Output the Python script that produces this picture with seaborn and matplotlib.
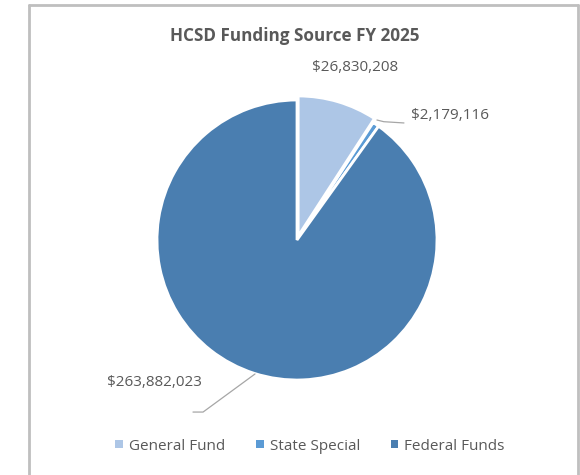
import numpy as np
import matplotlib
matplotlib.use("Agg")
import matplotlib.pyplot as plt
from matplotlib.patches import Patch
from matplotlib.lines import Line2D
import seaborn as sns

categories = ["General Fund", "State Special", "Federal Funds"]
values = [26830208, 2179116, 263882023]
value_labels = ["$26,830,208", "$2,179,116", "$263,882,023"]
colors = ["#adc6e6", "#5b9bd5", "#4a7eb0"]
title = "HCSD Funding Source FY 2025"

sns.set_theme(style="white")
plt.rcParams['font.family'] = ['Open Sans', 'DejaVu Sans']
txt = "#595959"

W, H = 580, 475
fig = plt.figure(figsize=(W / 100, H / 100), dpi=100)
fig.patch.set_facecolor("white")

cx, cy, R = 297, 240, 140
half = 1.4 * R
ax = fig.add_axes([(cx - half) / W, (H - cy - half) / H, 2 * half / W, 2 * half / H])

wedges, _ = ax.pie(values, colors=colors, startangle=90, counterclock=False,
                   explode=[0.03, 0, 0], radius=1.0,
                   wedgeprops=dict(edgecolor="white", linewidth=2))
ax.set_xlim(-1.4, 1.4)
ax.set_ylim(-1.4, 1.4)
ax.set_aspect("equal")
ax.axis("off")
for w in wedges:
    w.set_clip_on(False)

# data labels
fs = 11
ax.text(0.414, 1.229, value_labels[0], ha="center", va="center", fontsize=fs, color=txt)
ax.text(0.814, 0.886, value_labels[1], ha="left", va="center", fontsize=fs, color=txt)
ax.text(-0.679, -1.02, value_labels[2], ha="right", va="center", fontsize=fs, color=txt)

lc = "#a6a6a6"
ax.add_line(Line2D([0.571, 0.62, 0.764], [0.857, 0.845, 0.836], color=lc, lw=0.9, clip_on=False))
ax.add_line(Line2D([-0.30, -0.671, -0.743], [-0.957, -1.229, -1.229], color=lc, lw=0.9, clip_on=False))

fig.text(295 / W, 1 - 36 / H, title, ha="center", va="center", fontsize=12.3,
         fontweight="bold", color=txt)

handles = [Patch(facecolor=c, edgecolor="none") for c in colors]
fig.legend(handles, categories, loc="center", bbox_to_anchor=(310 / W, 1 - 446 / H),
           ncol=3, frameon=False, fontsize=11, handlelength=0.5, handleheight=0.5,
           handletextpad=0.4, columnspacing=2.0, labelcolor=txt)

fc = "#bfbfbf"
fig.add_artist(Line2D([29 / W, 29 / W], [0, 1 - 5 / H], transform=fig.transFigure, color=fc, lw=2))
fig.add_artist(Line2D([29 / W, 578 / W], [1 - 5 / H, 1 - 5 / H], transform=fig.transFigure, color=fc, lw=2))
fig.add_artist(Line2D([578 / W, 578 / W], [0, 1 - 5 / H], transform=fig.transFigure, color=fc, lw=2))

fig.savefig("out.png", dpi=100, facecolor="white")
